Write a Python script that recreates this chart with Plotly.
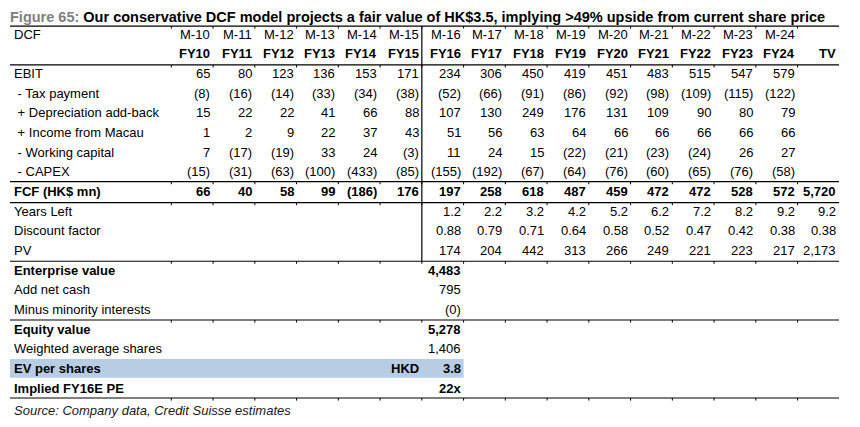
"""DCF valuation table (Figure 65) rebuilt as a Plotly figure."""

import numpy as np
import plotly.graph_objects as go

FONT = "Liberation Sans, Arial, sans-serif"

months = ["M-10", "M-11", "M-12", "M-13", "M-14", "M-15", "M-16", "M-17",
          "M-18", "M-19", "M-20", "M-21", "M-22", "M-23", "M-24"]
fiscal_years = ["FY10", "FY11", "FY12", "FY13", "FY14", "FY15", "FY16", "FY17",
                "FY18", "FY19", "FY20", "FY21", "FY22", "FY23", "FY24"]
terminal_label = "TV"

flow_labels = [" - Tax payment", " + Depreciation add-back", " + Income from Macau",
               " - Working capital", " - CAPEX"]
ebit = [65, 80, 123, 136, 153, 171, 234, 306, 450, 419, 451, 483, 515, 547, 579]
tax_payment = [-8, -16, -14, -33, -34, -38, -52, -66, -91, -86, -92, -98, -109, -115, -122]
depreciation = [15, 22, 22, 41, 66, 88, 107, 130, 249, 176, 131, 109, 90, 80, 79]
macau_income = [1, 2, 9, 22, 37, 43, 51, 56, 63, 64, 66, 66, 66, 66, 66]
working_capital = [7, -17, -19, 33, 24, -3, 11, 24, 15, -22, -21, -23, -24, 26, 27]
capex = [-15, -31, -63, -100, -433, -85, -155, -192, -67, -64, -76, -60, -65, -76, -58]
fcf = [66, 40, 58, 99, -186, 176, 197, 258, 618, 487, 459, 472, 472, 528, 572]
fcf_terminal = 5720

# FY16..FY24 plus terminal value
years_left = [1.2, 2.2, 3.2, 4.2, 5.2, 6.2, 7.2, 8.2, 9.2, 9.2]
discount_factor = [0.88, 0.79, 0.71, 0.64, 0.58, 0.52, 0.47, 0.42, 0.38, 0.38]
present_value = [174, 204, 442, 313, 266, 249, 221, 223, 217, 2173]

summary_labels = ["Enterprise value", "Add net cash", "Minus minority interests",
                  "Equity value", "Weighted average shares", "EV per shares",
                  "Implied FY16E PE"]
summary_values = [4483, 795, -0.0, 5278, 1406, 3.8, 22]
summary_bold = [True, False, False, True, False, True, True]
share_currency = "HKD"

title_prefix = "Figure 65:"
title_text = "Our conservative DCF model projects a fair value of HK$3.5, implying >49% upside from current share price"
source_text = "Source: Company data, Credit Suisse estimates"

# geometry: one x unit per year column, one y unit per table row.
# the page body has an 8px margin, so the figure is drawn 8px in from the window edge
PAGE_PAD = 8
W, H = 860 - 2 * PAGE_PAD, 427 - 2 * PAGE_PAD
COL0_PX, COL_W = 211 - PAGE_PAD, 41.75
ROW0_PX, ROW_H = 34.3 - PAGE_PAD, 19.65
first_proj = fiscal_years.index("FY16")
label_x = (12.5 - PAGE_PAD - COL0_PX) / COL_W
left_x = (10 - PAGE_PAD - COL0_PX) / COL_W
right_x = (839 - PAGE_PAD - COL0_PX) / COL_W


def fmt(v):
    return f"({abs(v):,.0f})" if np.signbit(v) else f"{v:,.0f}"


def cell(x, row, text, bold=False, anchor="right", italic=False, color="black", size=13):
    if bold:
        text = f"<b>{text}</b>"
    if italic:
        text = f"<i>{text}</i>"
    return dict(x=x, y=row, xref="x", yref="y", text=text, showarrow=False,
                xanchor=anchor, yanchor="middle", borderpad=0,
                font=dict(family=FONT, size=size, color=color))


ann = []
# header
ann.append(cell(label_x, 0, "DCF", anchor="left"))
for i, (m, fy) in enumerate(zip(months, fiscal_years)):
    ann.append(cell(i, 0, m))
    ann.append(cell(i, 1, fy, bold=True))
ann.append(cell(len(fiscal_years), 1, terminal_label, bold=True))

# cash-flow build-up
ann.append(cell(label_x, 2, "EBIT", anchor="left"))
for i, v in enumerate(ebit):
    ann.append(cell(i, 2, fmt(v)))
for r, (lab, series) in enumerate(zip(flow_labels, [tax_payment, depreciation, macau_income,
                                                     working_capital, capex]), start=3):
    ann.append(cell(label_x, r, lab, anchor="left"))
    for i, v in enumerate(series):
        ann.append(cell(i, r, fmt(v)))
ann.append(cell(label_x, 8, "FCF (HK$ mn)", bold=True, anchor="left"))
for i, v in enumerate(fcf + [fcf_terminal]):
    ann.append(cell(i, 8, fmt(v), bold=True))

# discounting
for r, lab, series, f in [(9, "Years Left", years_left, "{:.1f}"),
                          (10, "Discount factor", discount_factor, "{:.2f}"),
                          (11, "PV", present_value, None)]:
    ann.append(cell(label_x, r, lab, anchor="left"))
    for j, v in enumerate(series):
        ann.append(cell(first_proj + j, r, fmt(v) if f is None else f.format(v)))

# equity bridge
for k, (lab, v, b) in enumerate(zip(summary_labels, summary_values, summary_bold)):
    r = 12 + k
    ann.append(cell(label_x, r, lab, bold=b, anchor="left"))
    if lab == "EV per shares":
        txt = f"{v:.1f}"
        ann.append(cell(first_proj - 1, r, share_currency, bold=True))
    elif lab.startswith("Implied"):
        txt = f"{v:.0f}x"
    else:
        txt = fmt(v)
    ann.append(cell(first_proj, r, txt, bold=b))

ann.append(cell(label_x, 19.17, source_text, italic=True, anchor="left", color="#1a1a1a", size=13))

shapes = []
# shaded EV per share row
shapes.append(dict(type="rect", xref="x", yref="y", x0=left_x, x1=first_proj + 0.05,
                   y0=16.52, y1=17.48, fillcolor="#b8cce4", line_width=0, layer="below"))
rule_rows = [-0.42, 1.56, 7.5, 8.57, 11.55, 14.54, 18.51]
for y in rule_rows:
    shapes.append(dict(type="line", xref="x", yref="y", x0=left_x, x1=right_x, y0=y, y1=y,
                       line=dict(color="black", width=1.2)))
    for bx in [-0.95] + [i + 0.05 for i in range(len(fiscal_years))]:
        shapes.append(dict(type="line", xref="x", yref="y", x0=bx, x1=bx, y0=y, y1=y + 0.13,
                           line=dict(color="black", width=1)))
# split between history and forecast
shapes.append(dict(type="line", xref="x", yref="y", x0=first_proj - 0.95, x1=first_proj - 0.95,
                   y0=-0.42, y1=11.55, line=dict(color="black", width=1.2)))

fig = go.Figure()
fig.update_layout(
    width=W, height=H,
    margin=dict(l=0, r=0, t=0, b=0),
    paper_bgcolor="white", plot_bgcolor="white",
    showlegend=False,
    title=dict(
        text=f"<b><span style='color:#808080'>{title_prefix}</span> {title_text}</b>",
        x=(10 - PAGE_PAD) / W, xanchor="left", y=1 - (17 - PAGE_PAD) / H, yanchor="middle",
        xref="container", yref="container",
        font=dict(family=FONT, size=14.5, color="black"),
    ),
    xaxis=dict(range=[-COL0_PX / COL_W, (W - COL0_PX) / COL_W], visible=False),
    yaxis=dict(range=[(H - ROW0_PX) / ROW_H, -ROW0_PX / ROW_H], visible=False),
    annotations=ann,
    shapes=shapes,
)

fig.write_html("out.html")
